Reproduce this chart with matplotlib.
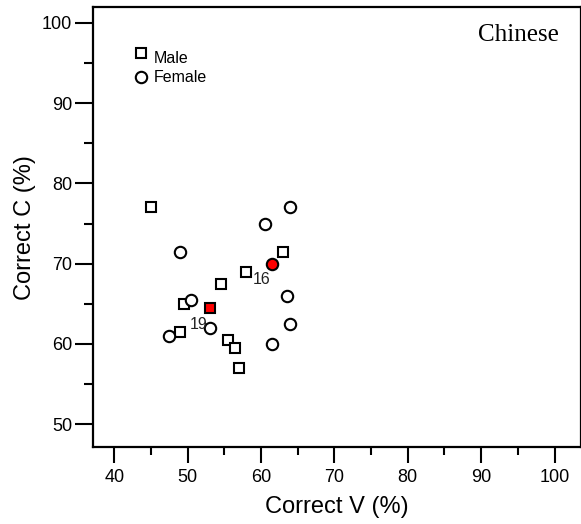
import matplotlib
matplotlib.use("Agg")
import matplotlib.pyplot as plt
from matplotlib.ticker import MultipleLocator

plt.rcParams['font.family'] = ['Liberation Sans', 'DejaVu Sans']

# male speakers (squares)
male_v = [45.0, 63.0, 58.0, 54.5, 49.5, 49.0, 55.5, 56.5, 57.0]
male_c = [77.0, 71.5, 69.0, 67.5, 65.0, 61.5, 60.5, 59.5, 57.0]
# female speakers (circles)
female_v = [64.0, 60.5, 49.0, 50.5, 63.5, 64.0, 53.0, 47.5, 61.5]
female_c = [77.0, 75.0, 71.5, 65.5, 66.0, 62.5, 62.0, 61.0, 60.0]
# highlighted speakers
hl_male = (53.0, 64.5, "19")
hl_female = (61.5, 70.0, "16")

SQ = 7.2
CI = 8.2
EW = 1.5

fig = plt.figure(figsize=(5.81, 5.24), dpi=100)
ax = fig.add_axes([0.160, 0.146, 0.840, 0.841])

mk = dict(linestyle='none', markerfacecolor='white', markeredgecolor='black',
          markeredgewidth=EW)
ax.plot(male_v, male_c, marker='s', markersize=SQ, **mk)
ax.plot(female_v, female_c, marker='o', markersize=CI, **mk)
ax.plot(hl_male[0], hl_male[1], marker='s', markersize=SQ, linestyle='none',
        markerfacecolor='red', markeredgecolor='black', markeredgewidth=EW)
ax.plot(hl_female[0], hl_female[1], marker='o', markersize=CI, linestyle='none',
        markerfacecolor='red', markeredgecolor='black', markeredgewidth=EW)

ax.text(58.9, 68.0, hl_female[2], fontsize=11.5, ha='left', va='center',
        color='#222222')
ax.text(50.3, 62.4, hl_male[2], fontsize=11.5, ha='left', va='center',
        color='#222222')

# legend drawn by hand in data space
ax.plot(43.6, 96.2, marker='s', markersize=SQ, **mk)
ax.plot(43.6, 93.3, marker='o', markersize=CI, **mk)
ax.text(45.4, 95.6, "Male", fontsize=11.5, va='center')
ax.text(45.4, 93.15, "Female", fontsize=11.5, va='center')

ax.text(95.1, 98.45, "Chinese", fontsize=18, ha='center', va='center',
        family='Liberation Serif')

ax.set_xlim(37.1, 103.6)
ax.set_ylim(47.1, 102.0)
ax.xaxis.set_major_locator(MultipleLocator(10))
ax.xaxis.set_minor_locator(MultipleLocator(5))
ax.yaxis.set_major_locator(MultipleLocator(10))
ax.yaxis.set_minor_locator(MultipleLocator(5))
ax.tick_params(axis='x', which='major', length=11.5, width=1.5, labelsize=13, pad=4)
ax.tick_params(axis='y', which='major', length=13, width=1.5, labelsize=13, pad=2)
ax.tick_params(axis='x', which='minor', length=5.5, width=1.5)
ax.tick_params(axis='y', which='minor', length=6.5, width=1.5)
for s in ax.spines.values():
    s.set_linewidth(1.6)

ax.set_xlabel("Correct V (%)", fontsize=17, labelpad=7)
ax.set_ylabel("Correct C (%)", fontsize=17, labelpad=4)

fig.savefig("out.png", dpi=100)
